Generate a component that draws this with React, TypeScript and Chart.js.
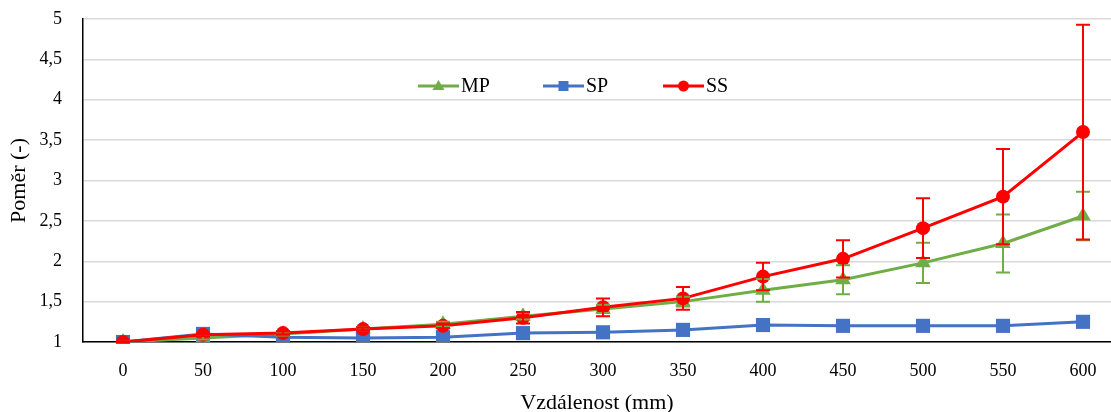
import React, { useEffect, useRef } from "react";
import { Chart, registerables } from "chart.js";

Chart.register(...registerables);

const distances = [0, 50, 100, 150, 200, 250, 300, 350, 400, 450, 500, 550, 600];
const mpValues = [1.0, 1.05, 1.1, 1.16, 1.22, 1.32, 1.41, 1.5, 1.64, 1.77, 1.98, 2.22, 2.56];
const mpErrors = [0.01, 0.02, 0.02, 0.02, 0.03, 0.04, 0.05, 0.06, 0.14, 0.18, 0.25, 0.36, 0.3];
const spValues = [1.0, 1.1, 1.06, 1.05, 1.06, 1.11, 1.12, 1.15, 1.21, 1.2, 1.2, 1.2, 1.25];
const ssValues = [1.0, 1.09, 1.11, 1.16, 1.2, 1.3, 1.43, 1.54, 1.81, 2.03, 2.41, 2.8, 3.6];
const ssErrors = [0.01, 0.02, 0.02, 0.02, 0.03, 0.07, 0.11, 0.14, 0.17, 0.23, 0.37, 0.59, 1.33];
const yTicks = [1, 1.5, 2, 2.5, 3, 3.5, 4, 4.5, 5];

const GREEN = "#70ad47";
const BLUE = "#4472c4";
const RED = "#ff0000";
const FONT = "'Liberation Serif', 'Times New Roman', serif";

const errorBarPlugin = {
  id: "errorBars",
  afterDatasetsDraw(chart: any) {
    const ctx = chart.ctx;
    const xs = chart.scales.x;
    const ys = chart.scales.y;
    const sets = [
      { vals: mpValues, errs: mpErrors, color: GREEN },
      { vals: ssValues, errs: ssErrors, color: RED },
    ];
    ctx.save();
    ctx.lineWidth = 2;
    for (const s of sets) {
      ctx.strokeStyle = s.color;
      distances.forEach((d, i) => {
        const x = xs.getPixelForValue(d);
        const yTop = ys.getPixelForValue(s.vals[i] + s.errs[i]);
        const yBot = ys.getPixelForValue(s.vals[i] - s.errs[i]);
        ctx.beginPath();
        ctx.moveTo(x, yTop);
        ctx.lineTo(x, yBot);
        ctx.moveTo(x - 7, yTop);
        ctx.lineTo(x + 7, yTop);
        ctx.moveTo(x - 7, yBot);
        ctx.lineTo(x + 7, yBot);
        ctx.stroke();
      });
    }
    ctx.restore();
  },
};

const legendPlugin = {
  id: "customLegend",
  afterDraw(chart: any) {
    const ctx = chart.ctx;
    const items = [
      { label: "MP", color: GREEN, style: "triangle", x: 418 },
      { label: "SP", color: BLUE, style: "rect", x: 543 },
      { label: "SS", color: RED, style: "circle", x: 663 },
    ];
    const y = 86;
    ctx.save();
    for (const it of items) {
      ctx.strokeStyle = it.color;
      ctx.lineWidth = 3;
      ctx.beginPath();
      ctx.moveTo(it.x, y);
      ctx.lineTo(it.x + 41, y);
      ctx.stroke();
      ctx.fillStyle = it.color;
      const cx = it.x + 20.5;
      ctx.beginPath();
      if (it.style === "triangle") {
        ctx.moveTo(cx, y - 6);
        ctx.lineTo(cx + 6, y + 4);
        ctx.lineTo(cx - 6, y + 4);
        ctx.closePath();
      } else if (it.style === "rect") {
        ctx.rect(cx - 5, y - 5, 10, 10);
      } else {
        ctx.arc(cx, y, 5.5, 0, Math.PI * 2);
      }
      ctx.fill();
      ctx.fillStyle = "#000";
      ctx.font = `20px ${FONT}`;
      ctx.textBaseline = "middle";
      ctx.textAlign = "left";
      ctx.fillText(it.label, it.x + 43, y + 1);
    }
    ctx.restore();
  },
};

export default function App() {
  const ref = useRef<HTMLCanvasElement>(null);
  useEffect(() => {
    if (!ref.current) return;
    const mk = (vals: number[]) => distances.map((d, i) => ({ x: d, y: vals[i] }));
    const chart = new Chart(ref.current, {
      type: "line",
      data: {
        datasets: [
          {
            label: "MP",
            data: mk(mpValues),
            borderColor: GREEN,
            backgroundColor: GREEN,
            borderWidth: 3,
            pointStyle: "triangle",
            pointRadius: 9,
            pointBorderWidth: 0,
            order: 2,
          },
          {
            label: "SP",
            data: mk(spValues),
            borderColor: BLUE,
            backgroundColor: BLUE,
            borderWidth: 3,
            pointStyle: "rect",
            pointRadius: 10,
            pointBorderWidth: 0,
            order: 1,
          },
          {
            label: "SS",
            data: mk(ssValues),
            borderColor: RED,
            backgroundColor: RED,
            borderWidth: 3,
            pointStyle: "circle",
            pointRadius: 7,
            pointBorderWidth: 0,
            order: 0,
          },
        ],
      },
      options: {
        responsive: false,
        animation: false,
        layout: { autoPadding: false, padding: { top: 19, right: 0, left: 0, bottom: 0 } },
        plugins: { legend: { display: false }, tooltip: { enabled: false } },
        scales: {
          x: {
            type: "linear",
            min: -25,
            max: 617.5,
            afterBuildTicks: (scale: any) => {
              scale.ticks = distances.map((v) => ({ value: v }));
            },
            afterFit: (scale: any) => {
              scale.height = 70;
              scale.paddingLeft = 0;
              scale.paddingRight = 0;
            },
            grid: { display: false, drawTicks: false },
            border: { display: true, color: "#000", width: 1.5 },
            ticks: {
              padding: 18,
              color: "#000",
              font: { family: FONT, size: 18 },
              callback: (v: any) => String(v),
              maxRotation: 0,
            },
            title: {
              display: true,
              text: "Vzdálenost (mm)",
              color: "#000",
              font: { family: FONT, size: 22 },
              padding: { top: 4, bottom: -4 },
            },
          },
          y: {
            type: "linear",
            min: 1,
            max: 5,
            afterBuildTicks: (scale: any) => {
              scale.ticks = yTicks.map((v) => ({ value: v }));
            },
            afterFit: (scale: any) => {
              scale.width = 83;
              scale.paddingTop = 0;
              scale.paddingBottom = 0;
            },
            grid: { color: "#d9d9d9", lineWidth: 1.5, drawTicks: false },
            border: { display: true, color: "#000", width: 1.5 },
            ticks: {
              padding: 21,
              color: "#000",
              font: { family: FONT, size: 18 },
              callback: (v: any) => String(v).replace(".", ","),
            },
            title: {
              display: true,
              text: "Poměr (-)",
              color: "#000",
              font: { family: FONT, size: 22 },
              padding: { top: 6, bottom: 0 },
            },
          },
        },
      },
      plugins: [errorBarPlugin, legendPlugin],
    });
    return () => chart.destroy();
  }, []);
  return (
    <div style={{ position: "fixed", left: 0, top: 0, width: 1111, height: 412, background: "#fff" }}>
      <canvas ref={ref} width={1111} height={412} style={{ display: "block" }} />
    </div>
  );
}
